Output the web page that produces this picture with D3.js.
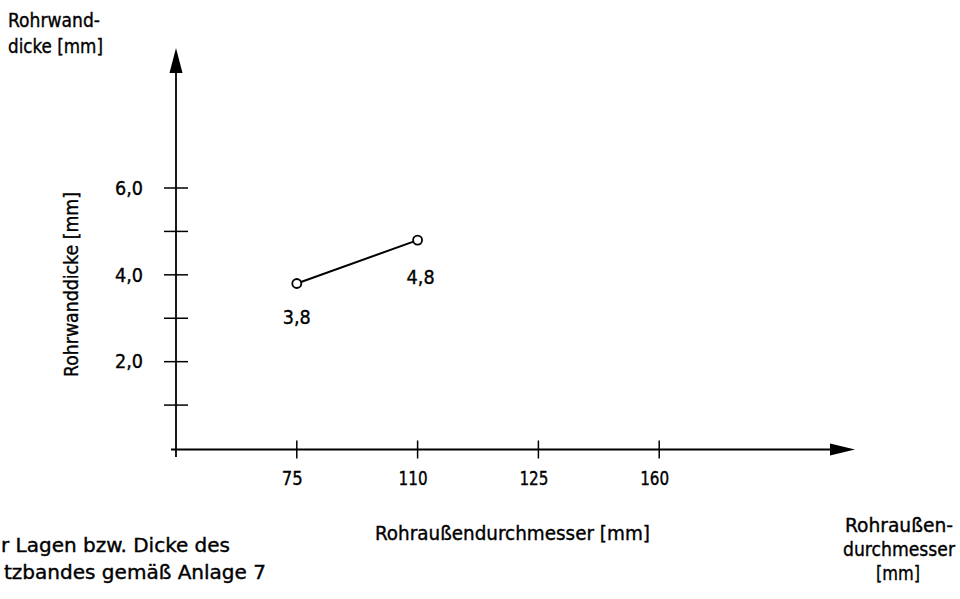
<!DOCTYPE html>
<html>
<head>
<meta charset="utf-8">
<script src="https://cdn.jsdelivr.net/npm/d3@7"></script>
<style>
  html, body { margin: 0; padding: 0; background: #fff; }
  svg { display: block; }
  text { font-family: "DejaVu Sans Condensed", "DejaVu Sans", sans-serif; fill: #000;
         stroke: #000; stroke-width: 0.35px; }
</style>
</head>
<body>
<svg id="chart" width="960" height="599"></svg>
<script>
// ---- data ----
const categories = ["75", "110", "125", "160"];          // Rohraußendurchmesser [mm]
const pointCategories = ["75", "110"];
const pointValues = [3.8, 4.8];                           // Rohrwanddicke [mm]
const yTickValues = [1, 2, 3, 4, 5, 6];
const yLabelledTicks = [2, 4, 6];
const yAxisTitle = "Rohrwanddicke [mm]";
const xAxisTitle = "Rohraußendurchmesser [mm]";
const yCornerTitle = ["Rohrwand-", "dicke [mm]"];
const xCornerTitle = ["Rohraußen-", "durchmesser", "[mm]"];
const noteLines = ["r Lagen bzw. Dicke des", "tzbandes gemäß Anlage 7"];

const fmt = v => d3.format(".1f")(v).replace(".", ",");

const svg = d3.select("#chart");

// squeeze/stretch a text to a given rendered width
function fitWidth(sel, w) {
  sel.attr("textLength", w).attr("lengthAdjust", "spacingAndGlyphs");
}

const x = d3.scalePoint().domain(categories).range([176, 780]).padding(1);
const y = d3.scaleLinear().domain([0, 6]).range([448.5, 188]);

const axisX = 176, axisY = 449.5;

// axes lines
svg.append("line").attr("x1", axisX).attr("x2", axisX).attr("y1", 457).attr("y2", 70)
  .attr("stroke", "#000").attr("stroke-width", 1.8);
svg.append("path").attr("d", `M${axisX},48 L${axisX - 6.5},73 L${axisX + 6.5},73 Z`).attr("fill", "#000");

svg.append("line").attr("x1", 171).attr("x2", 832).attr("y1", axisY).attr("y2", axisY)
  .attr("stroke", "#000").attr("stroke-width", 1.8);
svg.append("path").attr("d", `M855,${axisY} L830,${axisY - 6} L830,${axisY + 6} Z`).attr("fill", "#000");

// y ticks
svg.append("g").selectAll("line").data(yTickValues).join("line")
  .attr("x1", axisX - 12).attr("x2", axisX + 12)
  .attr("y1", d => y(d)).attr("y2", d => y(d))
  .attr("stroke", "#000").attr("stroke-width", 1.5);

// y tick labels via axis
const yAxis = d3.axisLeft(y).tickValues(yLabelledTicks).tickSize(0).tickPadding(33).tickFormat(fmt);
const gy = svg.append("g").attr("transform", `translate(${axisX},0)`).call(yAxis);
gy.select(".domain").remove();
gy.selectAll("text").attr("font-size", 19.5).attr("font-family", null).attr("fill", null)
  .each(function () { fitWidth(d3.select(this), 28); });

// x ticks
svg.append("g").selectAll("line").data(categories).join("line")
  .attr("x1", d => x(d)).attr("x2", d => x(d))
  .attr("y1", axisY - 9).attr("y2", axisY + 9)
  .attr("stroke", "#000").attr("stroke-width", 1.5);

const xAxis = d3.axisBottom(x).tickSize(0).tickPadding(22);
const gx = svg.append("g").attr("transform", `translate(0,${axisY})`).call(xAxis);
gx.select(".domain").remove();
gx.selectAll("text").attr("font-size", 19).attr("font-family", null).attr("fill", null)
  .attr("dx", -5)
  .each(function (d) { fitWidth(d3.select(this), d.length === 2 ? 21 : 29); });

// data line + points
const pts = pointCategories.map((c, i) => ({ c, v: pointValues[i] }));
svg.append("path").datum(pts)
  .attr("d", d3.line().x(d => x(d.c)).y(d => y(d.v)))
  .attr("fill", "none").attr("stroke", "#000").attr("stroke-width", 2);
svg.append("g").selectAll("circle").data(pts).join("circle")
  .attr("cx", d => x(d.c)).attr("cy", d => y(d.v)).attr("r", 4.5)
  .attr("fill", "#fff").attr("stroke", "#000").attr("stroke-width", 1.8);

// point labels
svg.append("g").selectAll("text").data(pts).join("text")
  .attr("x", (d, i) => x(d.c) - 14 + (i === 0 ? 0 : 3))
  .attr("y", (d, i) => y(d.v) + (i === 0 ? 40 : 44))
  .attr("font-size", 19.5)
  .text(d => fmt(d.v))
  .each(function () { fitWidth(d3.select(this), 28); });

// axis titles
svg.append("text")
  .attr("transform", "translate(78,377) rotate(-90)")
  .attr("font-size", 19).text(yAxisTitle)
  .call(fitWidth, 185);

svg.append("text")
  .attr("x", 375).attr("y", 540)
  .attr("font-size", 19.5).text(xAxisTitle)
  .call(fitWidth, 275);

// corner titles
const cornerW1 = [92, 95];
svg.append("g").selectAll("text").data(yCornerTitle).join("text")
  .attr("x", 8).attr("y", (d, i) => 27 + i * 26)
  .attr("font-size", 19.5).text(d => d)
  .each(function (d, i) { fitWidth(d3.select(this), cornerW1[i]); });

const cornerW2 = [108, 112, 44];
const cornerX2 = [845, 843, 876];
svg.append("g").selectAll("text").data(xCornerTitle).join("text")
  .attr("x", (d, i) => cornerX2[i]).attr("y", (d, i) => 532 + i * 24)
  .attr("font-size", 19.5).text(d => d)
  .each(function (d, i) { fitWidth(d3.select(this), cornerW2[i]); });

// note text
const noteW = [229, 262];
const noteX = [1, 4];
svg.append("g").selectAll("text").data(noteLines).join("text")
  .attr("x", (d, i) => noteX[i]).attr("y", (d, i) => 552 + i * 27)
  .attr("font-size", 19.5).text(d => d)
  .each(function (d, i) { fitWidth(d3.select(this), noteW[i]); });
</script>
</body>
</html>
